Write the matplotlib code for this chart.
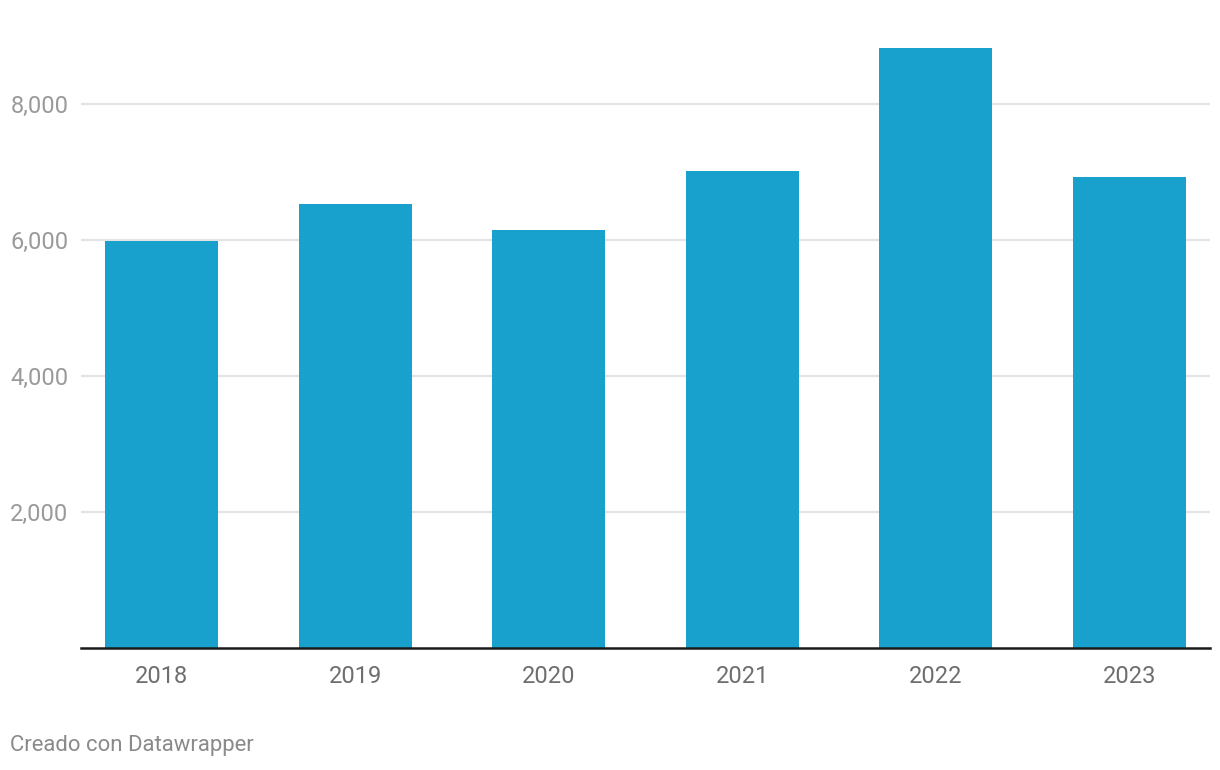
import matplotlib.pyplot as plt
from matplotlib.ticker import FuncFormatter

# ------------------------------------------------------------------ #
#  Data
# ------------------------------------------------------------------ #
years  = ["2018", "2019", "2020", "2021", "2022", "2023"]
values = [5980, 6525, 6143, 7010, 8817, 6922]
yticks = [2000, 4000, 6000, 8000]

BAR_COLOR = "#18a1cd"

plt.rcParams["font.family"] = ["Roboto", "DejaVu Sans"]

fig = plt.figure(figsize=(12.2, 7.7), dpi=100)
ax = fig.add_axes([81 / 1220, 122 / 770, 1129 / 1220, 612.5 / 770])

x = range(len(years))
ax.bar(x, values, width=0.584, color=BAR_COLOR, zorder=3)

ax.set_xlim(-0.416, len(years) - 1 + 0.416)
ax.set_ylim(0, 9000)

ax.set_yticks(yticks)
ax.yaxis.set_major_formatter(FuncFormatter(lambda v, _: f"{int(v):,}"))
ax.grid(axis="y", color="#e3e3e3", lw=1.6, zorder=0)
ax.tick_params(axis="y", length=0, pad=9, labelsize=17, labelcolor="#9a9a9a")

ax.set_xticks(list(x))
ax.set_xticklabels(years)
ax.tick_params(axis="x", length=0, pad=12, labelsize=17, labelcolor="#6e6e6e")

for s in ("top", "right", "left"):
    ax.spines[s].set_visible(False)
ax.spines["bottom"].set_color("#1a1a1a")
ax.spines["bottom"].set_linewidth(1.8)
ax.spines["bottom"].set_zorder(4)

fig.text(10 / 1220, 1 - 746 / 770, "Creado con Datawrapper",
         fontsize=15.9, color="#8a8a8a", ha="left", va="center")

fig.savefig("out.png", dpi=100, facecolor="white")
